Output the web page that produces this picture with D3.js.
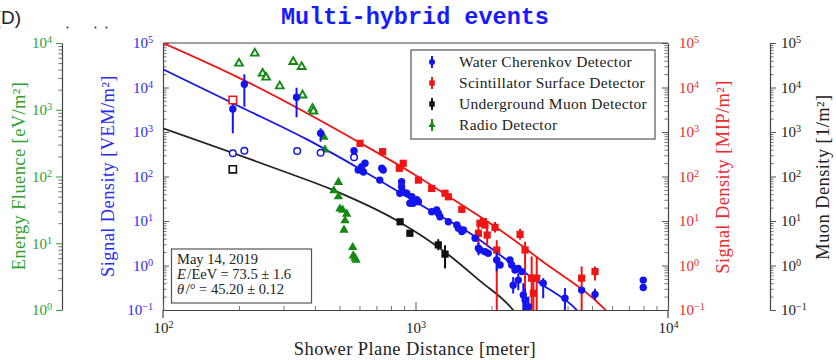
<!DOCTYPE html>
<html><head><meta charset="utf-8">
<script src="https://cdn.jsdelivr.net/npm/d3@7"></script>
<style>
html,body{margin:0;padding:0;background:#fff;}
svg{display:block;}
</style></head>
<body>
<svg id="chart" width="836" height="360"></svg>
<script>
// ---------- data ----------
// Water Cherenkov Detector: [distance m, signal VEM/m², lower, upper]
const wcdPoints = [
  [189, 3290, 935, 5240], [210, 11800, 3710, 19800], [338, 6030, 2140, 9900],
  [421, 935, 605, 1210], [571, 380], [593, 140], [612, 166], [631, 198], [622, 126],
  [735, 153], [745, 140], [722, 83], [881, 76], [881, 59], [894, 45], [867, 42],
  [923, 42], [967, 35], [1011, 30], [1027, 27], [978, 25], [950, 25],
  [1159, 16.2], [1213, 17.7], [1231, 14.9], [1250, 12.5], [1349, 9.6], [1457, 8.1],
  [1479, 6.9], [1525, 5.8], [1548, 6.3], [1722, 4.1], [1775, 2.44, 1.7, 3.3],
  [1800, 2.23], [1884, 2.04], [1941, 1.88], [2097, 1.33, 0.75, 2.0], [2163, 1.03],
  [2366, 1.33], [2403, 1.03], [2477, 0.79], [2553, 0.86], [2634, 0.73],
  [2437, 0.36, 0.235, 0.55], [2553, 0.47, 0.28, 0.66], [2673, 0.217, 0.05, 0.4],
  [2716, 0.168, 0.05, 0.3], [2800, 0.119, 0.05, 0.2], [3205, 0.40, 0.184, 0.52],
  [3908, 0.183, 0.05, 0.31], [4550, 0.28], [5140, 0.225, 0.17, 0.3],
  [7980, 0.47], [7980, 0.32]
];
const wcdSaturated = [[189, 332], [210, 380], [340, 374], [421, 343], [571, 270]];

// Scintillator Surface Detector: [distance m, signal MIP/m², lower, upper]
const ssdPoints = [
  [603, 557], [741, 361], [863, 153], [894, 198], [1027, 83], [1159, 54],
  [1309, 42], [1349, 35], [1525, 18.3], [1775, 5.3, 2.9, 9.4], [1800, 8.9],
  [1857, 9.7], [1884, 8.1], [1922, 4.84, 2.7, 7.5], [2065, 7.2, 5.5, 9.5],
  [2098, 2.23, 0.05, 3.7], [2595, 5.0, 3.8, 6.7], [2716, 2.23, 0.05, 3.4],
  [2884, 0.52, 0.05, 1.6], [2930, 0.237, 0.05, 0.45], [3020, 0.52, 0.05, 1.6],
  [4550, 0.52, 0.05, 0.95], [5140, 0.73, 0.46, 0.95]
];
const ssdSaturated = [[189, 5240]];

// Underground Muon Detector: [distance m, density 1/m², lower, upper]
const umdPoints = [[869, 9.6], [950, 5.3], [1231, 2.9, 2.2, 3.9], [1309, 1.8, 0.86, 2.85]];
const umdSaturated = [[189, 145]];

// Radio Detector: [distance m, energy fluence eV/m²]
const radioPoints = [
  [434, 390], [438, 252], [495, 82], [475, 61.6], [495, 50], [502, 32.7], [515, 31.5],
  [534, 27.5], [526, 21.8], [521, 15.8], [564, 8.66], [567, 6.5], [576, 6.0], [581, 5.6]
];
const radioOpen = [
  [200, 4950], [231, 7000], [248, 3500], [256, 3050], [290, 2260], [328, 5240],
  [354, 4400], [357, 1650], [391, 1040], [394, 950]
];

// Lateral distribution fits: [distance m, value]
const wcdFit = [[100, 25600], [200, 3800], [370, 690], [600, 150], [1000, 27], [1140, 17.5],
  [1690, 4.8], [2300, 1.33], [3110, 0.40], [4350, 0.1], [4600, 0.07]];
const ssdFit = [[100, 100000], [200, 16500], [600, 580], [1000, 107], [1340, 37], [2160, 6.3],
  [3110, 1.37], [5716, 0.094], [6000, 0.07]];
const umdFit = [[100, 1210], [290, 140], [470, 50], [870, 9.3], [1310, 2.0], [1800, 0.45],
  [2433, 0.1], [2550, 0.07]];

const distanceTicks = [100, 1000, 10000];
const signalTicks = [0.1, 1, 10, 100, 1000, 10000, 100000];
const fluenceTicks = [1, 10, 100, 1000, 10000];

const eventInfo = ["May 14, 2019", "E/EeV = 73.5 ± 1.6", "θ/° = 45.20 ± 0.12"];
const legendEntries = [
  {label: "Water Cherenkov Detector", key: "wcd"},
  {label: "Scintillator Surface Detector", key: "ssd"},
  {label: "Underground Muon Detector", key: "umd"},
  {label: "Radio Detector", key: "radio"}
];

// ---------- layout & style ----------
const C = {
  blue: "#1414f0", red: "#f01414", black: "#111", green: "#128a12",
  blueTxt: "#2a2af5", redTxt: "#f02a2a", greenTxt: "#2ea02e", axis: "#444"
};
const SERIF = "'Liberation Serif', 'Times New Roman', serif";
const plot = {left: 163, right: 668, top: 43, bottom: 310};

const svg = d3.select("#chart");
svg.append("rect").attr("width", 836).attr("height", 360).attr("fill", "#fff");

const x = d3.scaleLog().domain([100, 10000]).range([plot.left, plot.right]);
const y = d3.scaleLog().domain([0.1, 100000]).range([plot.bottom, plot.top]);
const yRadio = d3.scaleLog().domain([1, 10000]).range([plot.bottom, plot.top]);

function minorTicks(lo, hi) {
  const out = [];
  for (let e = Math.round(Math.log10(lo)); e < Math.round(Math.log10(hi)); e++)
    for (let m = 2; m <= 9; m++) out.push(m * Math.pow(10, e));
  return out;
}

function powerLabels(g, color, size) {
  g.selectAll(".tick text").each(function(d) {
    const e = Math.round(Math.log10(d));
    const t = d3.select(this).text(null)
      .attr("fill", color).attr("font-family", SERIF).attr("font-size", size);
    t.append("tspan").text("10");
    t.append("tspan").attr("dy", "-0.48em").attr("font-size", "0.68em")
      .text(e < 0 ? "\u2212" + (-e) : String(e));
  });
}

function styleAxis(g, tickColor) {
  g.select(".domain").attr("stroke", C.axis).attr("stroke-width", 1.2);
  g.selectAll(".tick line").attr("stroke", tickColor || "#666").attr("stroke-width", 1);
}

// vertical axis builder
function vAxis(xPos, scale, majors, dir, size, pad, color, labelColor) {
  const minors = minorTicks(majors[0], majors[majors.length - 1]);
  const mk = dir === "left" ? d3.axisLeft : d3.axisRight;
  const gMin = svg.append("g").attr("transform", `translate(${xPos},0)`)
    .call(mk(scale).tickValues(minors).tickFormat("").tickSizeInner(size * 0.6).tickSizeOuter(0));
  gMin.select(".domain").remove();
  gMin.selectAll(".tick line").attr("stroke", "#777");
  const g = svg.append("g").attr("transform", `translate(${xPos},0)`)
    .call(mk(scale).tickValues(majors).tickSizeInner(size).tickSizeOuter(0).tickPadding(pad));
  styleAxis(g, color);
  powerLabels(g, labelColor, 15);
  return g;
}

// frame top edge
svg.append("line").attr("x1", plot.left).attr("x2", plot.right)
  .attr("y1", plot.top).attr("y2", plot.top).attr("stroke", C.axis).attr("stroke-width", 1.2);

// left axes
vAxis(plot.left, y, signalTicks, "left", -6, 10, "#555", C.blueTxt);
vAxis(62, yRadio, fluenceTicks, "left", 6, 4, C.greenTxt, C.greenTxt);
// right axes
vAxis(plot.right, y, signalTicks, "right", -6, 11, "#555", C.redTxt);
vAxis(770, y, signalTicks, "right", 6, 5, "#555", "#222");

// vertical axis lines continue slightly below the bottom axis
[plot.left, plot.right].forEach(px => svg.append("line")
  .attr("x1", px).attr("x2", px).attr("y1", plot.bottom).attr("y2", plot.bottom + 8)
  .attr("stroke", C.axis).attr("stroke-width", 1.2));

// bottom axis
const gxMin = svg.append("g").attr("transform", `translate(0,${plot.bottom})`)
  .call(d3.axisBottom(x).tickValues(minorTicks(100, 10000)).tickFormat("").tickSizeInner(-4).tickSizeOuter(0));
gxMin.select(".domain").remove();
gxMin.selectAll(".tick line").attr("stroke", "#777");
const gx = svg.append("g").attr("transform", `translate(0,${plot.bottom})`)
  .call(d3.axisBottom(x).tickValues(distanceTicks).tickSizeInner(-8).tickSizeOuter(0).tickPadding(12));
styleAxis(gx, "#555");
powerLabels(gx, "#222", 15);

// axis titles
function vTitle(cx, cy, text, color) {
  svg.append("text").attr("transform", `translate(${cx},${cy}) rotate(-90)`)
    .attr("text-anchor", "middle").attr("dominant-baseline", "central")
    .attr("font-family", SERIF).attr("font-size", 18.5).attr("letter-spacing", 0.4)
    .attr("fill", color).text(text);
}
vTitle(19, 176, "Energy Fluence [eV/m²]", C.greenTxt);
vTitle(108, 176, "Signal Density [VEM/m²]", C.blueTxt);
vTitle(723, 177, "Signal Density [MIP/m²]", C.redTxt);
vTitle(823, 177, "Muon Density [1/m²]", "#222");
svg.append("text").attr("x", 415).attr("y", 355).attr("text-anchor", "middle")
  .attr("font-family", SERIF).attr("font-size", 18.5).attr("letter-spacing", 0.4)
  .attr("fill", "#222").text("Shower Plane Distance [meter]");

// title and panel tag (the tag sits against the left page edge)
svg.append("text").attr("x", 415).attr("y", 24).attr("text-anchor", "middle")
  .attr("font-family", "'Liberation Mono', 'DejaVu Sans Mono', monospace")
  .attr("font-weight", "bold").attr("font-size", 23.5).attr("fill", "#1a1aff")
  .text("Multi-hybrid events");
svg.append("text").attr("x", 21).attr("y", 24).attr("text-anchor", "end")
  .attr("font-family", "'Liberation Sans', Arial, sans-serif").attr("font-size", 19)
  .attr("fill", "#222").text("(D)");
[67.5, 95.5, 106.5].forEach(cx => svg.append("circle").attr("cx", cx).attr("cy", 27.5)
  .attr("r", 1).attr("fill", "#333"));

// ---------- plot contents ----------
svg.append("clipPath").attr("id", "plotClip").append("rect")
  .attr("x", plot.left).attr("y", plot.top)
  .attr("width", plot.right - plot.left).attr("height", plot.bottom - plot.top);
const layer = svg.append("g").attr("clip-path", "url(#plotClip)");

const fitLine = (scale) => d3.line().x(d => x(d[0])).y(d => scale(d[1])).curve(d3.curveMonotoneX);
layer.append("path").datum(ssdFit).attr("d", fitLine(y)).attr("fill", "none")
  .attr("stroke", C.red).attr("stroke-width", 1.8);
layer.append("path").datum(wcdFit).attr("d", fitLine(y)).attr("fill", "none")
  .attr("stroke", C.blue).attr("stroke-width", 1.8);
layer.append("path").datum(umdFit).attr("d", fitLine(y)).attr("fill", "none")
  .attr("stroke", "#222").attr("stroke-width", 1.8);

function errorBars(data, color) {
  layer.append("g").selectAll("line").data(data.filter(d => d[2] != null)).join("line")
    .attr("x1", d => x(d[0])).attr("x2", d => x(d[0]))
    .attr("y1", d => y(d[2])).attr("y2", d => y(d[3]))
    .attr("stroke", color).attr("stroke-width", 2);
}

const sq = d3.symbol().type(d3.symbolSquare);
const tri = d3.symbol().type(d3.symbolTriangle);

// radio (behind the particle detectors)
layer.append("g").selectAll("path").data(radioOpen).join("path")
  .attr("transform", d => `translate(${x(d[0])},${yRadio(d[1])})`)
  .attr("d", tri.size(26)()).attr("fill", "#fff").attr("stroke", C.green).attr("stroke-width", 1.9);
layer.append("g").selectAll("path").data(radioPoints).join("path")
  .attr("transform", d => `translate(${x(d[0])},${yRadio(d[1])})`)
  .attr("d", tri.size(38)()).attr("fill", C.green);

// muon detector
errorBars(umdPoints, C.black);
layer.append("g").selectAll("path").data(umdPoints).join("path")
  .attr("transform", d => `translate(${x(d[0])},${y(d[1])})`)
  .attr("d", sq.size(52)()).attr("fill", C.black);
layer.append("g").selectAll("path").data(umdSaturated).join("path")
  .attr("transform", d => `translate(${x(d[0])},${y(d[1])})`)
  .attr("d", sq.size(52)()).attr("fill", "#fff").attr("stroke", C.black).attr("stroke-width", 1.6);

// scintillators
errorBars(ssdPoints, C.red);
layer.append("g").selectAll("path").data(ssdPoints).join("path")
  .attr("transform", d => `translate(${x(d[0])},${y(d[1])})`)
  .attr("d", sq.size(52)()).attr("fill", C.red);

// water Cherenkov
errorBars(wcdPoints, C.blue);
layer.append("g").selectAll("circle").data(wcdPoints).join("circle")
  .attr("cx", d => x(d[0])).attr("cy", d => y(d[1])).attr("r", 3.7).attr("fill", C.blue);
layer.append("g").selectAll("circle").data(wcdSaturated).join("circle")
  .attr("cx", d => x(d[0])).attr("cy", d => y(d[1])).attr("r", 3.3)
  .attr("fill", "#fff").attr("stroke", C.blue).attr("stroke-width", 1.5);

layer.append("g").selectAll("path").data(ssdSaturated).join("path")
  .attr("transform", d => `translate(${x(d[0])},${y(d[1])})`)
  .attr("d", sq.size(56)()).attr("fill", "#fff").attr("stroke", C.red).attr("stroke-width", 1.6);

// ---------- legend ----------
const lg = svg.append("g");
lg.append("rect").attr("x", 411).attr("y", 50).attr("width", 244).attr("height", 89)
  .attr("fill", "#fff").attr("stroke", "#555").attr("stroke-width", 1.2);
const legendColor = {wcd: C.blue, ssd: C.red, umd: C.black, radio: C.green};
legendEntries.forEach((e, i) => {
  const cy = 62 + i * 21;
  const col = legendColor[e.key];
  lg.append("line").attr("x1", 432).attr("x2", 432).attr("y1", cy - 6).attr("y2", cy + 6)
    .attr("stroke", col).attr("stroke-width", 2);
  if (e.key === "wcd") lg.append("circle").attr("cx", 432).attr("cy", cy).attr("r", 3).attr("fill", col);
  else if (e.key === "radio") lg.append("path").attr("transform", `translate(432,${cy})`)
    .attr("d", tri.size(22)()).attr("fill", col);
  else lg.append("path").attr("transform", `translate(432,${cy})`)
    .attr("d", sq.size(30)()).attr("fill", col);
  lg.append("text").attr("x", 459).attr("y", cy + 5).attr("font-family", SERIF)
    .attr("font-size", 15.5).attr("letter-spacing", 0.3).attr("fill", "#222").text(e.label);
});

// ---------- event info box ----------
const ib = svg.append("g");
ib.append("rect").attr("x", 171.5).attr("y", 249).attr("width", 140).attr("height", 54)
  .attr("fill", "#fff").attr("stroke", "#555").attr("stroke-width", 1.2);
const infoText = (yPos) => ib.append("text").attr("x", 177).attr("y", yPos)
  .attr("font-family", SERIF).attr("font-size", 14.5).attr("fill", "#222");
infoText(264).text(eventInfo[0]);
// leading symbol of each quantity line is set in italics
[[eventInfo[1], 279], [eventInfo[2], 294]].forEach(([line, yPos]) => {
  const t = infoText(yPos);
  t.append("tspan").attr("font-style", "italic").text(line.slice(0, 1));
  t.append("tspan").attr("dx", 1.5).text(line.slice(1));
});
</script>
</body></html>
